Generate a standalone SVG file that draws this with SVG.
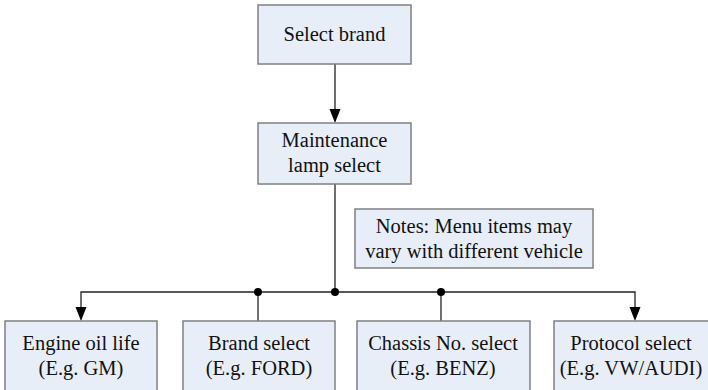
<svg xmlns="http://www.w3.org/2000/svg" width="708" height="390" viewBox="0 0 708 390">
<defs>
<style>
.box{fill:#E8EEF8;stroke:#808080;stroke-width:1.5}
.t{font-family:"Liberation Serif","Times New Roman",serif;font-size:20.5px;fill:#111;text-anchor:middle}
.ln{fill:none;stroke:#222;stroke-width:1.3}
.ar{fill:#000}
.dot{fill:#000}
</style>
</defs>
<rect width="708" height="390" fill="#fff"/>
<g id="connectors">
<line class="ln" x1="335" y1="64" x2="335" y2="110"/>
<polygon class="ar" points="329.5,109 340.5,109 335,123"/>
<line class="ln" x1="335" y1="184" x2="335" y2="292"/>
<polyline class="ln" points="81,308 81,292 635,292 635,308"/>
<polygon class="ar" points="75.5,307 86.5,307 81,321"/>
<polygon class="ar" points="629.5,307 640.5,307 635,321"/>
<line class="ln" x1="258" y1="292" x2="258" y2="321"/>
<line class="ln" x1="441" y1="292" x2="441" y2="321"/>
<circle class="dot" cx="258" cy="292" r="4"/>
<circle class="dot" cx="335" cy="292" r="4"/>
<circle class="dot" cx="441" cy="292" r="4"/>
</g>
<g id="select-brand">
<rect class="box" x="258" y="5" width="153" height="59"/>
<text class="t" x="334.5" y="41">Select brand</text>
</g>
<g id="maintenance">
<rect class="box" x="258" y="123" width="153" height="61"/>
<text class="t" x="334.5" y="147">Maintenance</text>
<text class="t" x="334.5" y="172">lamp select</text>
</g>
<g id="notes">
<rect class="box" x="355" y="209" width="238" height="59"/>
<text class="t" x="474" y="233">Notes: Menu items may</text>
<text class="t" x="474" y="258">vary with different vehicle</text>
</g>
<g id="engine-oil">
<rect class="box" x="5" y="321" width="152" height="80"/>
<text class="t" x="81" y="350">Engine oil life</text>
<text class="t" x="81" y="375">(E.g. GM)</text>
</g>
<g id="brand-select">
<rect class="box" x="183" y="321" width="152" height="80"/>
<text class="t" x="259" y="350">Brand select</text>
<text class="t" x="259" y="375">(E.g. FORD)</text>
</g>
<g id="chassis-select">
<rect class="box" x="357" y="321" width="173" height="80"/>
<text class="t" x="443" y="350">Chassis No. select</text>
<text class="t" x="443" y="375">(E.g. BENZ)</text>
</g>
<g id="protocol-select">
<rect class="box" x="554" y="321" width="163" height="80"/>
<text class="t" x="631" y="350">Protocol select</text>
<text class="t" x="631" y="375">(E.g. VW/AUDI)</text>
</g>
</svg>
